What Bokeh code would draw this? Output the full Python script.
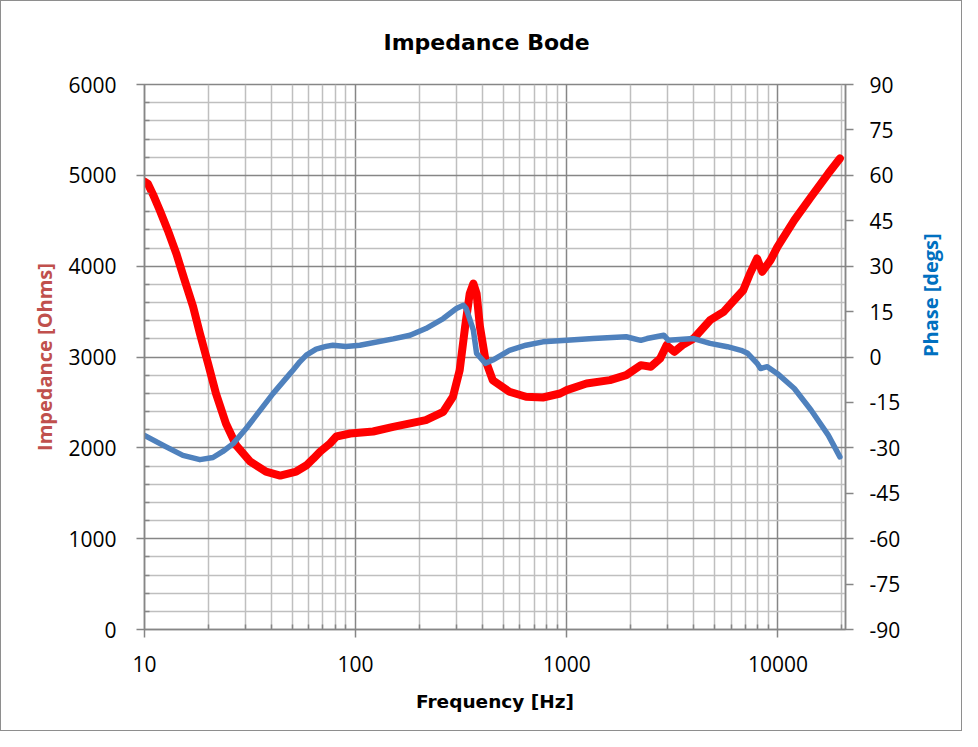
import math
from bokeh.plotting import figure
from bokeh.models import Range1d, LinearAxis, FixedTicker, NumeralTickFormatter
from bokeh.embed import file_html
from bokeh.resources import INLINE

# ---------------- data ----------------
title_text = "Impedance Bode"
x_label = "Frequency [Hz]"
left_label = "Impedance [Ohms]"
right_label = "Phase [degs]"

x_major_ticks = [10, 100, 1000, 10000]
x_minor_ticks = [m * d for d in (10, 100, 1000) for m in range(2, 10)] + [20000]
z_ticks = [0, 1000, 2000, 3000, 4000, 5000, 6000]
z_minor_ticks = [v for v in range(200, 6000, 200) if v % 1000 != 0]
phase_ticks = [-90, -75, -60, -45, -30, -15, 0, 15, 30, 45, 60, 75, 90]

imp_freq = [10, 10.39, 10.97, 11.81, 12.9, 14.15, 15.4, 16.98, 18.3, 20.0, 21.8, 24.3,
            27.2, 31.6, 37.6, 43.9, 52.3, 58.3, 63, 68.0, 75.6, 81, 94.3, 121, 150.6,
            215, 260, 289, 311, 330, 347, 361, 374, 388, 412, 446, 535, 641, 771, 930,
            1000, 1240, 1600, 1912, 2240, 2500, 2770, 2970, 3230, 3530, 3990, 4770,
            5530, 6200, 6850, 7380, 7970, 8430, 9230, 9950, 11960, 14370, 17310, 19660]
imp_ohms = [4930, 4905, 4790, 4616, 4393, 4139, 3864, 3556, 3259, 2928, 2598, 2268,
            2026, 1850, 1739, 1695, 1739, 1805, 1880, 1960, 2048, 2125, 2158, 2180, 2231,
            2305, 2397, 2562, 2855, 3333, 3699, 3809, 3699, 3333, 2965, 2745, 2617, 2562,
            2554, 2598, 2635, 2708, 2745, 2800, 2910, 2892, 2983, 3130, 3057, 3130, 3204,
            3405, 3497, 3625, 3735, 3919, 4084, 3938, 4066, 4213, 4506, 4764, 5020, 5185]

ph_freq = [10, 12.6, 15.2, 18.3, 21.1, 23.5, 26.3, 30.3, 35.2, 40.6, 48.9, 50.6, 54.4,
           58.4, 65, 72.4, 78, 90, 104.7, 150.6, 181, 215, 260, 300, 324, 334, 361, 374,
           412, 446, 535, 641, 771, 1000, 1333, 1912, 2240, 2400, 2880, 3030, 3990,
           4770, 5760, 6690, 7190, 7970, 8270, 8910, 9950, 11960, 14370, 17310, 19660]
ph_deg = [-25.9, -29.6, -32.5, -33.9, -33.2, -31.2, -28.6, -23.6, -17.7, -12.1, -5.5,
          -4.3, -1.6, 0.6, 2.6, 3.5, 3.9, 3.5, 3.9, 6.0, 7.2, 9.4, 12.7, 16.0, 17.1, 16.0,
          8.9, 1.2, -2.1, -1.0, 2.2, 3.9, 5.0, 5.5, 6.1, 6.7, 5.5, 6.1, 7.2, 5.5, 6.1,
          4.5, 3.4, 2.2, 1.2, -2.1, -3.8, -3.2, -5.5, -10.4, -17.6, -25.8, -33.0]

# ---------------- styles ----------------
AXIS_GREY = "#868686"
MINOR_GREY = "#BFBFBF"
TICK_FONT = "Open Sans"
TICK_SIZE = "21px"

p = figure(width=962, height=731, x_axis_type="log",
           x_range=Range1d(10, 20900), y_range=Range1d(0, 6000),
           output_backend="svg", toolbar_location=None,
           min_border_left=143, min_border_right=118,
           min_border_top=83, min_border_bottom=103)
p.styles = {"border": "1px solid #8e8e8e"}
p.background_fill_color = "white"
p.border_fill_color = "white"
p.outline_line_color = AXIS_GREY
p.outline_line_width = 1.5

# title
p.title.text = title_text
p.title.align = "left"
p.title.offset = 239
p.title.vertical_align = "top"
p.title.text_font = "DejaVu Sans"
p.title.text_font_style = "bold"
p.title.text_font_size = "22px"
p.title.text_color = "black"
p.title.standoff = 55

# x axis
xa = p.xaxis[0]
xa.ticker = FixedTicker(ticks=x_major_ticks, minor_ticks=x_minor_ticks)
xa.formatter = NumeralTickFormatter(format="0")
xa.axis_label = x_label
xa.axis_label_text_font = "DejaVu Sans"
xa.axis_label_text_font_style = "bold"
xa.axis_label_text_font_size = "18.5px"
xa.axis_label_text_color = "black"

# left axis
ya = p.yaxis[0]
ya.ticker = FixedTicker(ticks=z_ticks, minor_ticks=z_minor_ticks)
ya.formatter = NumeralTickFormatter(format="0")
ya.axis_label = left_label
ya.axis_label_text_font = "Open Sans"
ya.axis_label_text_font_style = "bold"
ya.axis_label_text_font_size = "20px"
ya.axis_label_text_color = "#C0504D"

# right axis
p.extra_y_ranges = {"phase": Range1d(-90, 90)}
ra = LinearAxis(y_range_name="phase", ticker=FixedTicker(ticks=phase_ticks),
                formatter=NumeralTickFormatter(format="0"))
ra.axis_label = right_label
ra.axis_label_text_font = "Open Sans"
ra.axis_label_text_font_style = "bold"
ra.axis_label_text_font_size = "20px"
ra.axis_label_text_color = "#0070C0"
try:
    ra.axis_label_orientation = math.pi / 2
except Exception:
    pass
p.add_layout(ra, "right")

for ax in (xa, ya, ra):
    ax.axis_line_color = AXIS_GREY
    ax.axis_line_width = 1.5
    ax.major_tick_line_color = AXIS_GREY
    ax.major_tick_line_width = 1.5
    ax.major_tick_out = 8
    ax.major_tick_in = 0
    ax.minor_tick_line_color = AXIS_GREY
    ax.minor_tick_line_width = 1.5
    ax.minor_tick_in = 5
    ax.minor_tick_out = 0
    ax.major_label_text_font = TICK_FONT
    ax.major_label_text_font_size = TICK_SIZE
    ax.major_label_text_color = "black"
xa.major_label_standoff = 18
xa.axis_label_standoff = 16
ya.major_label_standoff = 20
ya.axis_label_standoff = 7
ra.major_label_standoff = 16
ra.axis_label_standoff = 27

# grids
for g in (p.xgrid[0], p.ygrid[0]):
    g.grid_line_color = AXIS_GREY
    g.grid_line_width = 1.5
    g.minor_grid_line_color = MINOR_GREY
    g.minor_grid_line_width = 1.5

# series
p.line(imp_freq, imp_ohms, line_color="#FF0000", line_width=8,
       line_join="round", line_cap="round")
p.line(ph_freq, ph_deg, y_range_name="phase", line_color="#4F81BD", line_width=5.5,
       line_join="round", line_cap="round")

open("out.html", "w").write(file_html(p, INLINE))
